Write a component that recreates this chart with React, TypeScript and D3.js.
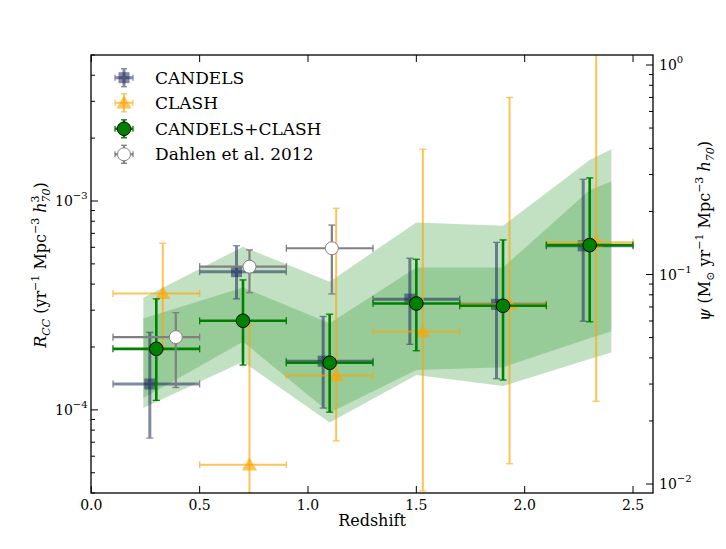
import * as d3 from "d3";

// redshift bins shared by all binned measurements
const binLo = [0.1, 0.5, 0.9, 1.3, 1.7, 2.1];
const binHi = [0.5, 0.9, 1.3, 1.7, 2.1, 2.5];

// CANDELS
const zCandels = [0.27, 0.67, 1.07, 1.47, 1.87, 2.27];
const rateCandels = [1.33e-4, 4.59e-4, 1.71e-4, 3.39e-4, 3.2e-4, 6.1e-4];
const hiCandels = [2.35e-4, 6.11e-4, 2.8e-4, 5.32e-4, 6.34e-4, 1.27e-3];
const loCandels = [7.33e-5, 3.4e-4, 1.02e-4, 2.06e-4, 1.41e-4, 2.66e-4];

// CLASH
const zClash = [0.33, 0.73, 1.13, 1.53, 1.93, 2.33];
const rateClash = [3.61e-4, 5.46e-5, 1.46e-4, 2.37e-4, 3.2e-4, 6.35e-4];
const hiClash = [6.28e-4, 2.55e-4, 9.23e-4, 1.77e-3, 3.13e-3, 1e-2];
const loClash = [2.0e-4, 1e-6, 7.1e-5, 4.09e-5, 5.52e-5, 1.1e-4];

// CANDELS+CLASH
const zComb = [0.3, 0.7, 1.1, 1.5, 1.9, 2.3];
const rateComb = [1.96e-4, 2.67e-4, 1.68e-4, 3.23e-4, 3.15e-4, 6.15e-4];
const hiComb = [3.4e-4, 4.19e-4, 2.87e-4, 5.26e-4, 6.51e-4, 1.29e-3];
const loComb = [1.11e-4, 1.64e-4, 9.75e-5, 1.92e-4, 1.39e-4, 2.64e-4];

// Dahlen et al. 2012
const zDahlen = [0.39, 0.73, 1.11];
const rateDahlen = [2.23e-4, 4.85e-4, 5.94e-4];
const hiDahlen = [2.92e-4, 5.83e-4, 7.67e-4];
const loDahlen = [1.28e-4, 3.64e-4, 3.59e-4];
const binLoDahlen = [0.1, 0.5, 0.9];
const binHiDahlen = [0.5, 0.9, 1.3];

// model bands
const bandZ = [0.24, 0.7, 1.1, 1.5, 1.9, 2.3, 2.4];
const outerHi = [3.44e-4, 6.04e-4, 4.11e-4, 7.9e-4, 7.62e-4, 1.57e-3, 1.77e-3];
const outerLo = [1.02e-4, 1.7e-4, 8.7e-5, 1.47e-4, 1.3e-4, 1.75e-4, 1.88e-4];
const innerHi = [2.74e-4, 3.85e-4, 2.6e-4, 4.8e-4, 4.8e-4, 1.13e-3, 1.24e-3];
const innerLo = [1.14e-4, 2.12e-4, 9.7e-5, 1.55e-4, 1.6e-4, 2.2e-4, 2.37e-4];

const xTicks = [0, 0.5, 1.0, 1.5, 2.0, 2.5];
const yMajor = [1e-4, 1e-3];
const yRMajor = [1e-2, 1e-1, 1];

const W = 726;
const H = 549;
const left = 91;
const right = 653;
const top = 55;
const bottom = 493;
const FONT = "'DejaVu Serif', serif";

const x = d3.scaleLinear().domain([0, 2.6]).range([91.3, 654.7]);
const y = d3.scaleLog().domain([4e-5, 5e-3]).range([bottom, top]);
const yR = d3.scaleLog().domain([0.00906, 1.116]).range([bottom, top]);

const minorOf = (lo: number, hi: number) => {
  const out: number[] = [];
  for (let e = -6; e <= 1; e++) {
    for (let m = 2; m <= 9; m++) {
      const v = m * Math.pow(10, e);
      if (v >= lo && v <= hi) out.push(v);
    }
  }
  return out;
};

type Marker = "square" | "triangle" | "circle" | "open";

const drawMarker = (kind: Marker, cx: number, cy: number, color: string, op: number, key?: string) => {
  if (kind === "square")
    return <rect key={key} x={cx - 5.5} y={cy - 5.5} width={11} height={11} fill={color} opacity={op} />;
  if (kind === "triangle") {
    const s = 7.5;
    return (
      <path key={key} d={`M${cx},${cy - s}L${cx + s},${cy + s * 0.75}L${cx - s},${cy + s * 0.75}Z`} fill={color} opacity={op} />
    );
  }
  if (kind === "circle")
    return <circle key={key} cx={cx} cy={cy} r={6.8} fill="green" stroke="black" strokeWidth={1} />;
  return <circle key={key} cx={cx} cy={cy} r={6.5} fill="white" stroke="#808080" strokeWidth={1} />;
};

function ErrSeries(props: {
  z: number[]; rate: number[]; lo: number[]; hi: number[]; xlo: number[]; xhi: number[];
  color: string; op: number; lw: number; marker: Marker;
}) {
  const { z, rate, lo, hi, xlo, xhi, color, op, lw, marker } = props;
  const cap = 3.5;
  return (
    <g>
      {z.map((zz, i) => {
        const cx = x(zz);
        const cy = y(rate[i]);
        const y1 = y(Math.max(lo[i], 1e-7));
        const y2 = y(hi[i]);
        const x1 = x(xlo[i]);
        const x2 = x(xhi[i]);
        return (
          <g key={i} stroke={color} strokeWidth={lw} opacity={op} fill="none">
            <line x1={x1} x2={x2} y1={cy} y2={cy} />
            <line x1={cx} x2={cx} y1={y1} y2={y2} />
            <line x1={cx - cap} x2={cx + cap} y1={y1} y2={y1} strokeWidth={1.3} />
            <line x1={cx - cap} x2={cx + cap} y1={y2} y2={y2} strokeWidth={1.3} />
            <line x1={x1} x2={x1} y1={cy - cap} y2={cy + cap} strokeWidth={1.3} />
            <line x1={x2} x2={x2} y1={cy - cap} y2={cy + cap} strokeWidth={1.3} />
          </g>
        );
      })}
      {z.map((zz, i) => drawMarker(marker, x(zz), y(rate[i]), color, op, "m" + i))}
    </g>
  );
}

const band = (hi: number[], lo: number[]) =>
  d3
    .area<number>()
    .x((_, i) => x(bandZ[i]))
    .y0((_, i) => y(lo[i]))
    .y1((_, i) => y(hi[i]))(bandZ) as string;

const Sup = (t: string) => (
  <tspan fontSize={11} dy={-7}>{t}</tspan>
);

export default function App() {
  const legend: { label: string; color: string; op: number; lw: number; marker: Marker }[] = [
    { label: "CANDELS", color: "#1c2a5c", op: 0.55, lw: 3, marker: "square" },
    { label: "CLASH", color: "orange", op: 0.65, lw: 2, marker: "triangle" },
    { label: "CANDELS+CLASH", color: "green", op: 1, lw: 2.6, marker: "circle" },
    { label: "Dahlen et al. 2012", color: "#808080", op: 1, lw: 2.2, marker: "open" },
  ];
  const legendY = [77.7, 102.8, 128.8, 154.3];

  return (
    <svg
      width={W}
      height={H}
      style={{ position: "absolute", left: 0, top: 0, background: "white" }}
      fontFamily={FONT}
    >
      <defs>
        <clipPath id="plot">
          <rect x={left} y={top} width={right - left} height={bottom - top} />
        </clipPath>
      </defs>

      <g clipPath="url(#plot)">
        <path d={band(outerHi, outerLo)} fill="green" opacity={0.24} />
        <path d={band(innerHi, innerLo)} fill="green" opacity={0.22} />
        <ErrSeries z={zCandels} rate={rateCandels} lo={loCandels} hi={hiCandels} xlo={binLo} xhi={binHi}
          color="#1c2a5c" op={0.55} lw={3} marker="square" />
        <ErrSeries z={zClash} rate={rateClash} lo={loClash} hi={hiClash} xlo={binLo} xhi={binHi}
          color="orange" op={0.65} lw={2} marker="triangle" />
        <ErrSeries z={zComb} rate={rateComb} lo={loComb} hi={hiComb} xlo={binLo} xhi={binHi}
          color="green" op={1} lw={2.6} marker="circle" />
        <ErrSeries z={zDahlen} rate={rateDahlen} lo={loDahlen} hi={hiDahlen} xlo={binLoDahlen} xhi={binHiDahlen}
          color="#808080" op={1} lw={2.2} marker="open" />
      </g>

      {/* frame */}
      <rect x={left} y={top} width={right - left} height={bottom - top} fill="none" stroke="black" strokeWidth={1.3} />

      {/* x ticks bottom + top */}
      {xTicks.map((t) => (
        <g key={t}>
          <line x1={x(t)} x2={x(t)} y1={bottom} y2={bottom - 7} stroke="black" />
          <line x1={x(t)} x2={x(t)} y1={top} y2={top + 7} stroke="black" />
          <text x={x(t)} y={510} textAnchor="middle" fontSize={14}>{t.toFixed(1)}</text>
        </g>
      ))}
      <text x={(left + right) / 2} y={526} textAnchor="middle" fontSize={16}>Redshift</text>

      {/* left log axis */}
      {yMajor.map((t) => (
        <g key={t}>
          <line x1={left} x2={left + 7} y1={y(t)} y2={y(t)} stroke="black" />
          <text x={55} y={y(t) + 5} fontSize={14}>
            10<tspan fontSize={10} dy={-7}>{"−" + Math.round(-Math.log10(t))}</tspan>
          </text>
        </g>
      ))}
      {minorOf(4e-5, 5e-3).map((t) => (
        <line key={t} x1={left} x2={left + 4} y1={y(t)} y2={y(t)} stroke="black" />
      ))}

      {/* right log axis */}
      {yRMajor.map((t) => {
        const e = Math.round(Math.log10(t));
        return (
          <g key={t}>
            <line x1={right} x2={right - 7} y1={yR(t)} y2={yR(t)} stroke="black" />
            <text x={659} y={yR(t) + 5} fontSize={14}>
              10<tspan fontSize={10} dy={-7}>{e === 0 ? "0" : "−" + -e}</tspan>
            </text>
          </g>
        );
      })}
      {minorOf(0.00906, 1.116).map((t) => (
        <line key={t} x1={right} x2={right - 4} y1={yR(t)} y2={yR(t)} stroke="black" />
      ))}

      {/* axis labels */}
      <text transform="translate(46,265) rotate(-90)" textAnchor="middle" fontSize={16}>
        <tspan fontStyle="italic">R</tspan>
        <tspan fontStyle="italic" fontSize={11} dy={4}>CC</tspan>
        <tspan dy={-4}> (yr</tspan>
        {Sup("−1")}
        <tspan dy={7}> Mpc</tspan>
        {Sup("−3")}
        <tspan dy={7}>{"  "}</tspan>
        <tspan fontStyle="italic">h</tspan>
        <tspan fontSize={11} dy={-7}>3</tspan>
        <tspan fontSize={11} fontStyle="italic" dx={-7} dy={11}>70</tspan>
        <tspan dy={-4}>)</tspan>
      </text>
      <text transform="translate(710,231) rotate(-90)" textAnchor="middle" fontSize={16}>
        <tspan fontStyle="italic">ψ</tspan>
        <tspan> (M</tspan>
        <tspan fontSize={11} dy={4}>⊙</tspan>
        <tspan dy={-4}> yr</tspan>
        {Sup("−1")}
        <tspan dy={7}> Mpc</tspan>
        {Sup("−3")}
        <tspan dy={7}>{"  "}</tspan>
        <tspan fontStyle="italic">h</tspan>
        <tspan fontSize={11} fontStyle="italic" dy={4}>70</tspan>
        <tspan dy={-4}>)</tspan>
      </text>

      {/* legend */}
      {legend.map((l, i) => {
        const cx = 124;
        const cy = legendY[i];
        const h = 9;
        return (
          <g key={l.label}>
            <g stroke={l.color} strokeWidth={l.lw} opacity={l.op}>
              <line x1={cx - h} x2={cx + h} y1={cy} y2={cy} />
              <line x1={cx} x2={cx} y1={cy - h} y2={cy + h} />
              <line x1={cx - 3} x2={cx + 3} y1={cy - h} y2={cy - h} strokeWidth={1.3} />
              <line x1={cx - 3} x2={cx + 3} y1={cy + h} y2={cy + h} strokeWidth={1.3} />
              <line x1={cx - h} x2={cx - h} y1={cy - 3} y2={cy + 3} strokeWidth={1.3} />
              <line x1={cx + h} x2={cx + h} y1={cy - 3} y2={cy + 3} strokeWidth={1.3} />
            </g>
            {drawMarker(l.marker, cx, cy, l.color, l.op)}
            <text x={155} y={cy + 6} fontSize={17}>{l.label}</text>
          </g>
        );
      })}
    </svg>
  );
}
